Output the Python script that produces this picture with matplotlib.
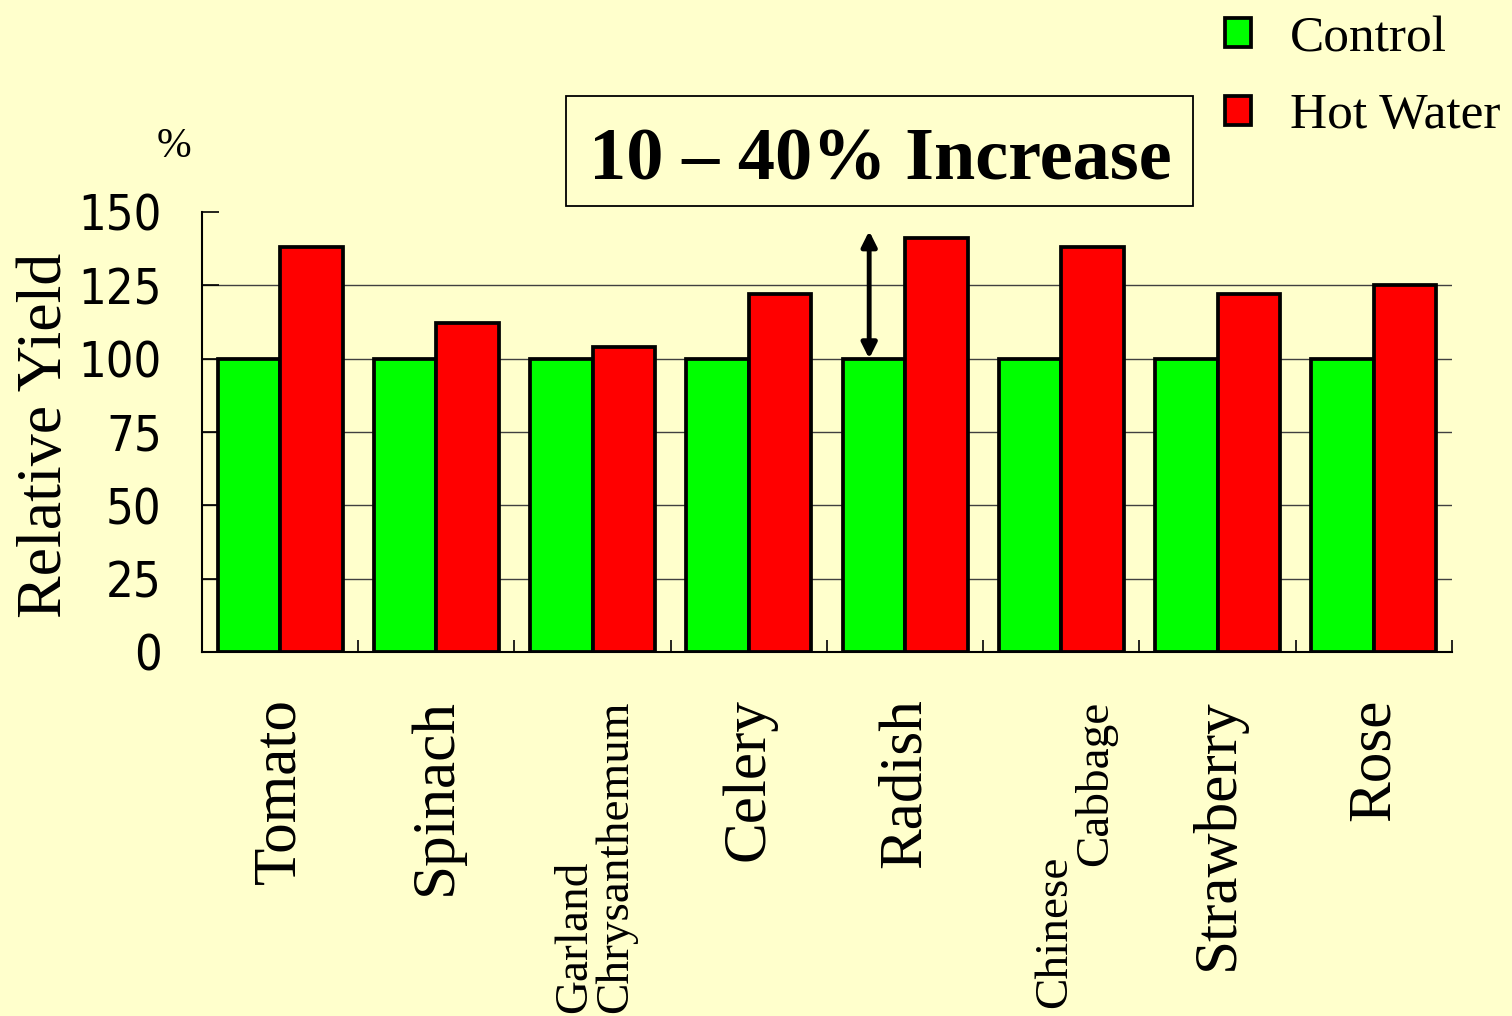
import numpy as np
import matplotlib.pyplot as plt
from matplotlib.patches import Rectangle

# Relative yield (%) per crop, control vs hot water treatment
crops = ["Tomato", "Spinach", "Garland\nChrysanthemum", "Celery", "Radish",
         "Chinese\nCabbage", "Strawberry", "Rose"]
control = [100, 100, 100, 100, 100, 100, 100, 100]
hot_water = [138, 112, 104, 122, 141, 138, 122, 125]
y_ticks = [0, 25, 50, 75, 100, 125, 150]

fond = "#FFFFCC"
serif = ["Liberation Serif", "DejaVu Serif"]

fig = plt.figure(figsize=(15.12, 10.16), dpi=100, facecolor=fond)
ax = fig.add_axes([0.1336, 0.3583, 0.8267, 0.4331], facecolor=fond)

x = np.arange(len(crops))
largeur = 0.4
ax.bar(x - largeur / 2, control, largeur, color="#00FF00", edgecolor="black",
       linewidth=2.7, label="Control", zorder=3)
ax.bar(x + largeur / 2, hot_water, largeur, color="#FF0000", edgecolor="black",
       linewidth=2.7, label="Hot Water", zorder=3)

ax.set_xlim(-0.5, len(crops) - 0.5)
ax.set_ylim(0, 150)

# lignes horizontales de la grille (pas a 150)
for v in y_ticks[1:-1]:
    ax.axhline(v, color="#404040", linewidth=1.0, zorder=1)

ax.spines["top"].set_visible(False)
ax.spines["right"].set_visible(False)
for s in ("left", "bottom"):
    ax.spines[s].set_linewidth(1.5)
    ax.spines[s].set_zorder(4)

ax.set_yticks(y_ticks)
ax.set_yticklabels([str(v) for v in y_ticks], family="DejaVu Sans",
                   stretch="condensed", fontsize=35)
ax.tick_params(axis="y", direction="in", length=12, width=1.2, pad=29)

# petits traits entre les categories
ax.set_xticks(np.arange(len(crops) + 1) - 0.5)
ax.set_xticklabels([])
ax.tick_params(axis="x", direction="in", length=9, width=1.2)

trans = ax.get_xaxis_transform()
for i, nom in enumerate(crops):
    if "\n" in nom:
        if nom.startswith("Chinese"):
            mots = nom.split("\n")
            ax.text(i - 0.04, -0.81, mots[0], transform=trans, rotation=90,
                    ha="center", va="bottom", family=serif, fontsize=34)
            ax.text(i + 0.22, -0.11, mots[1], transform=trans, rotation=90,
                    ha="center", va="top", family=serif, fontsize=34)
        else:
            ax.text(i + 0.02, -0.11, nom, transform=trans, rotation=90,
                    ha="center", va="top", multialignment="left",
                    family=serif, fontsize=34, linespacing=0.95)
    else:
        ax.text(i, -0.105, nom, transform=trans, rotation=90, ha="center",
                va="top", family=serif, fontsize=44)

ax.set_ylabel("Relative Yield", family=serif, fontsize=46)
ax.yaxis.set_label_coords(-0.102, 0.493)
fig.text(0.115, 0.856, "%", family=serif, fontsize=30, ha="center",
         va="center")

# fleche double au-dessus du radis
i_radish = crops.index("Radish")
ax.annotate("", xy=(i_radish - 0.23, 143.5), xytext=(i_radish - 0.23, 100),
            arrowprops=dict(arrowstyle="<|-|>,head_length=0.9,head_width=0.45",
                            color="black", linewidth=3.5, shrinkA=0,
                            shrinkB=0), zorder=5)

# cadre du titre
fig.patches.append(Rectangle((0.3743, 0.7972), 0.4147, 0.1083,
                             transform=fig.transFigure, facecolor=fond,
                             edgecolor="black", linewidth=1.3))
fig.text(0.582, 0.8238, "10 \u2013 40% Increase", family=serif,
         fontsize=53.5, fontweight="bold", ha="center", va="baseline")

fig.legend(loc="upper left", bbox_to_anchor=(0.79, 1.015), frameon=False,
           prop={"family": serif, "size": 37}, handlelength=0.5,
           handleheight=0.5, handletextpad=0.75, labelspacing=0.6,
           borderpad=0.1)

fig.savefig("out.png", dpi=100, facecolor=fond)
